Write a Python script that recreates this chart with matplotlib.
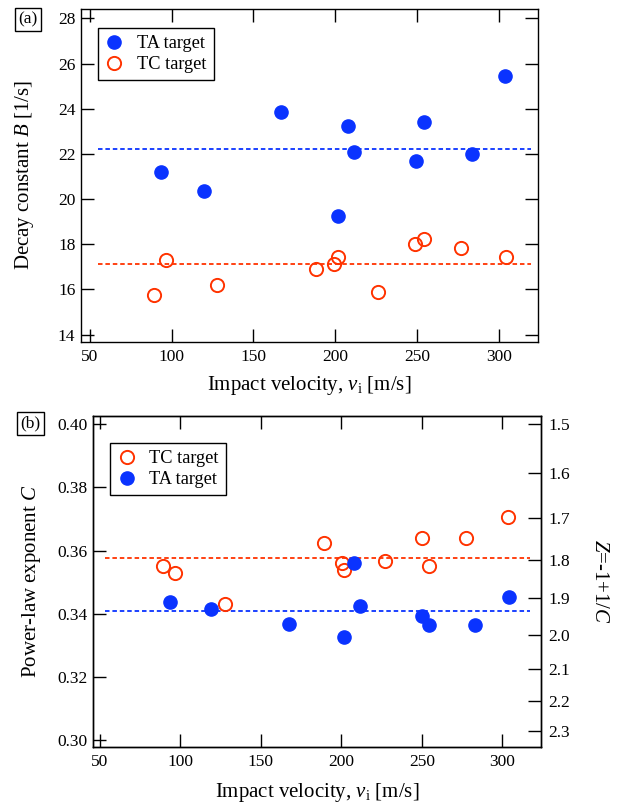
import matplotlib
matplotlib.use("Agg")
import matplotlib.pyplot as plt

# フォント設定
plt.rcParams["font.family"] = ["Liberation Serif", "DejaVu Serif"]
plt.rcParams["mathtext.fontset"] = "custom"
plt.rcParams["mathtext.rm"] = "Liberation Serif"
plt.rcParams["mathtext.it"] = "Liberation Serif:italic"

# (a) decay constant B
ta_v_a = [93.4, 119.5, 166.7, 201.4, 207.9, 211.2, 249.1, 254.3, 283.5, 304.1]
ta_B = [21.21, 20.36, 23.87, 19.27, 23.25, 22.07, 21.69, 23.40, 22.01, 25.43]
tc_v_a = [88.9, 96.5, 127.8, 188.3, 199.1, 201.6, 226.0, 248.8, 254.3, 277.2, 304.3]
tc_B = [15.74, 17.29, 16.21, 16.92, 17.14, 17.45, 15.89, 18.01, 18.23, 17.85, 17.45]
mean_B_ta = 22.22
mean_B_tc = 17.13

# (b) power-law exponent C
tc_v_b = [88.9, 96.8, 127.5, 189.3, 200.3, 201.3, 226.8, 250.0, 254.3, 277.3, 303.8]
tc_C = [0.3550, 0.3528, 0.3431, 0.3623, 0.3561, 0.3538, 0.3567, 0.3639, 0.3550, 0.3639, 0.3707]
ta_v_b = [93.5, 118.9, 167.4, 201.3, 208.0, 211.5, 250.0, 254.3, 282.9, 303.9]
ta_C = [0.3437, 0.3414, 0.3369, 0.3325, 0.3561, 0.3426, 0.3392, 0.3364, 0.3364, 0.3453]
mean_C_tc = 0.3577
mean_C_ta = 0.3409

x_ticks = [50, 100, 150, 200, 250, 300]
B_ticks = [14, 16, 18, 20, 22, 24, 26, 28]
C_ticks = [0.30, 0.32, 0.34, 0.36, 0.38, 0.40]
Z_ticks = [1.5, 1.6, 1.7, 1.8, 1.9, 2.0, 2.1, 2.2, 2.3]

blue = "#0a33ff"
red = "#ff3300"
ms = 9.5
dash = (0, (2.5, 1.6))
lw_axis = 1.0
tick_fs = 12.5
label_fs = 15
leg_fs = 13.2


def style_axes(ax):
    for s in ax.spines.values():
        s.set_linewidth(lw_axis)
    ax.tick_params(direction="in", length=9.5, width=lw_axis, labelsize=tick_fs,
                   top=True, right=True)
    ax.tick_params(axis="x", pad=5)
    ax.tick_params(axis="y", pad=4)


def add_legend(ax, anchor):
    leg = ax.legend(loc="upper left", bbox_to_anchor=anchor, borderaxespad=0,
                    fontsize=leg_fs, frameon=True, fancybox=False, framealpha=1,
                    edgecolor="black", handlelength=1.0, handletextpad=0.75,
                    borderpad=0.4, labelspacing=0.2, numpoints=1)
    leg.get_frame().set_linewidth(lw_axis)
    return leg


fig = plt.figure(figsize=(6.21, 8.07), dpi=100)

# ---- (a) ----
ax1 = fig.add_axes([0.1304, 0.5766, 0.7359, 0.4122])
ax1.plot([55, 320], [mean_B_ta, mean_B_ta], color=blue, lw=1.3, linestyle=dash)
ax1.plot([55, 320], [mean_B_tc, mean_B_tc], color=red, lw=1.3, linestyle=dash)
ax1.plot(ta_v_a, ta_B, "o", color=blue, ms=ms, mec=blue, label="TA target")
ax1.plot(tc_v_a, tc_B, "o", mfc="none", mec=red, mew=1.4, ms=ms, label="TC target")
ax1.set_xlim(44.5, 324)
ax1.set_ylim(13.69, 28.41)
ax1.set_xticks(x_ticks)
ax1.set_yticks(B_ticks)
style_axes(ax1)
ax1.set_xlabel(r"Impact velocity, $v_{\mathrm{i}}$ [m/s]", fontsize=label_fs, labelpad=7)
ax1.set_ylabel(r"Decay constant $B$ [1/s]", fontsize=label_fs, labelpad=16)
add_legend(ax1, (0.037, 0.943))
fig.text(0.0455, 0.9758, "(a)", fontsize=12.5, ha="center", va="center",
         bbox=dict(boxstyle="square,pad=0.2", fc="white", ec="black", lw=lw_axis))

# ---- (b) ----
ax2 = fig.add_axes([0.1493, 0.0747, 0.7219, 0.4102])
ax2.plot([53, 317], [mean_C_tc, mean_C_tc], color=red, lw=1.3, linestyle=dash)
ax2.plot([53, 317], [mean_C_ta, mean_C_ta], color=blue, lw=1.3, linestyle=dash)
ax2.plot(tc_v_b, tc_C, "o", mfc="none", mec=red, mew=1.4, ms=ms, label="TC target")
ax2.plot(ta_v_b, ta_C, "o", color=blue, ms=ms, mec=blue, label="TA target")
ax2.set_xlim(45.5, 324)
ax2.set_ylim(0.2979, 0.4027)
ax2.set_xticks(x_ticks)
ax2.set_yticks(C_ticks)
ax2.set_yticklabels([f"{c:.2f}" for c in C_ticks])
style_axes(ax2)
ax2.tick_params(right=False)
ax2.set_xlabel(r"Impact velocity, $v_{\mathrm{i}}$ [m/s]", fontsize=label_fs, labelpad=8)
ax2.set_ylabel(r"Power-law exponent $C$", fontsize=label_fs, labelpad=10)
add_legend(ax2, (0.0386, 0.9175))

# 右軸: Z = -1 + 1/C
ax3 = ax2.twinx()
ax3.set_ylim(ax2.get_ylim())
ax3.set_yticks([1.0 / (1.0 + z) for z in Z_ticks])
ax3.set_yticklabels([f"{z:.1f}" for z in Z_ticks])
ax3.tick_params(axis="y", direction="in", length=9.5, width=lw_axis,
                labelsize=tick_fs, pad=5)
for s in ax3.spines.values():
    s.set_linewidth(lw_axis)
ax3.set_ylabel(r"$Z$=-1+1/$C$", fontsize=label_fs, rotation=270, labelpad=28)

fig.text(0.0491, 0.4758, "(b)", fontsize=12.5, ha="center", va="center",
         bbox=dict(boxstyle="square,pad=0.2", fc="white", ec="black", lw=lw_axis))

plt.savefig("out.png", dpi=100)
